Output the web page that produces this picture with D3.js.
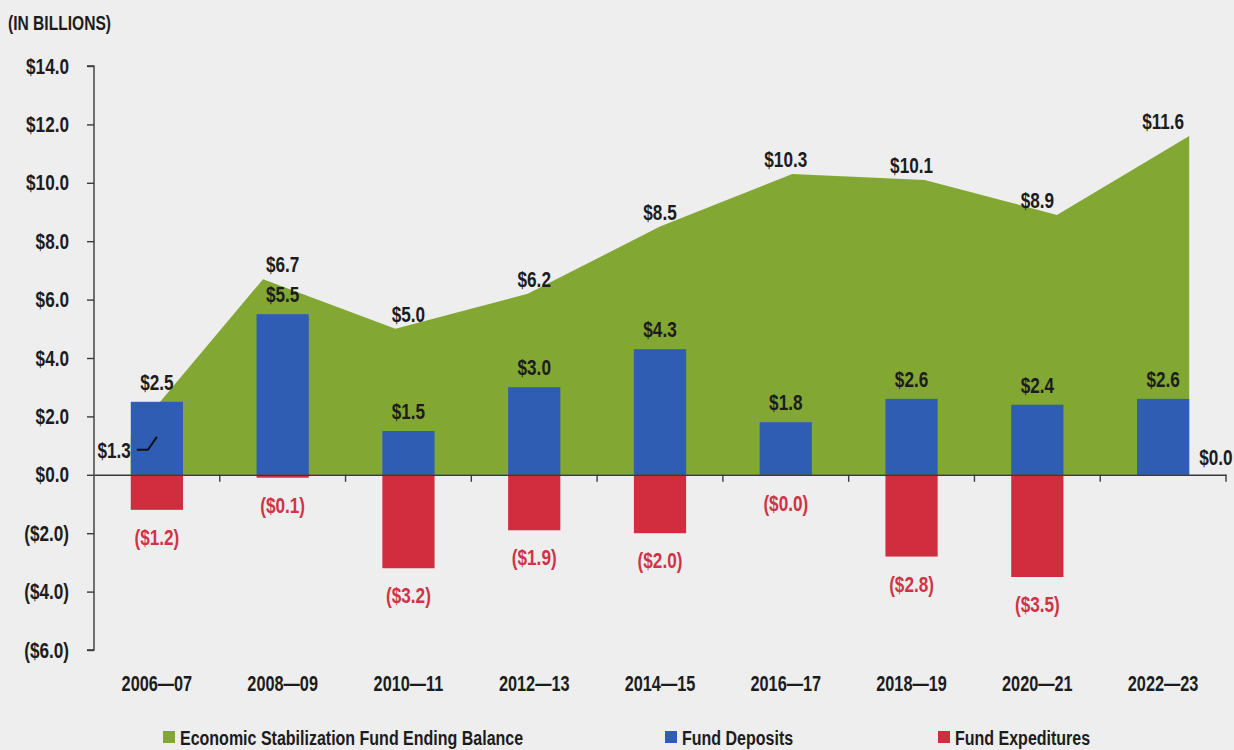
<!DOCTYPE html>
<html>
<head>
<meta charset="utf-8">
<script src="https://cdn.jsdelivr.net/npm/d3@7"></script>
<style>
  html, body { margin: 0; padding: 0; background: #eeeeee; }
  svg { display: block; }
  text { font-family: "Liberation Sans", Arial, sans-serif; font-weight: bold; }
</style>
</head>
<body>
<svg id="chart" width="1234" height="750"></svg>
<script>
// ---- data ----
const categories = ["2006—07", "2008—09", "2010—11", "2012—13", "2014—15", "2016—17", "2018—19", "2020—21", "2022—23"];
const endingBalance = [1.3, 6.7, 5.0, 6.2, 8.5, 10.3, 10.1, 8.9, 11.6];
const fundDeposits = [2.5, 5.5, 1.5, 3.0, 4.3, 1.8, 2.6, 2.4, 2.6];
const fundExpenditures = [-1.2, -0.1, -3.2, -1.9, -2.0, -0.04, -2.8, -3.5, 0.0];
const yTicks = [-6, -4, -2, 0, 2, 4, 6, 8, 10, 12, 14];
const legendLabels = ["Economic Stabilization Fund Ending Balance", "Fund Deposits", "Fund Expeditures"];
const unitLabel = "(IN BILLIONS)";

const colors = { balance: "#82a733", deposits: "#2f5db3", expend: "#d22d3e", expendText: "#cf3346", ink: "#1c1c1c", axis: "#3a3a3a" };
const K = 0.78; // horizontal condensing factor for narrow type

const svg = d3.select("#chart");
const W = 1234, H = 750;
svg.append("rect").attr("width", W).attr("height", H).attr("fill", "#eeeeee");

function condense(sel, k = K) {
  sel.each(function () {
    const t = d3.select(this);
    const tx = +t.attr("x") || 0, ty = +t.attr("y") || 0;
    t.attr("x", 0).attr("y", 0).attr("transform", `translate(${tx},${ty}) scale(${k},1)`);
  });
}

const x = d3.scaleBand().domain(categories).range([94, 1226]).padding(0);
const bw = x.bandwidth();
const barW = bw * 0.415;
const cx = c => x(c) + bw / 2;
const y = d3.scaleLinear().domain([-6, 14]).range([650, 66]);
const xa = d3.scaleLinear().domain([0, categories.length - 1])
  .range([cx(categories[0]) - barW / 2, cx(categories[categories.length - 1]) + barW / 2]);

const fmt = v => {
  const s = "$" + Math.abs(v).toFixed(1);
  return v < 0 ? "(" + s + ")" : s;
};

// ---- area ----
const area = d3.area().x((d, i) => xa(i)).y0(y(0)).y1(d => y(d));
svg.append("path").datum(endingBalance).attr("d", area).attr("fill", colors.balance);

// ---- bars ----
svg.append("g").selectAll("rect").data(fundDeposits).join("rect")
  .attr("x", (d, i) => cx(categories[i]) - barW / 2)
  .attr("y", d => y(Math.max(0, d)))
  .attr("width", barW)
  .attr("height", d => Math.abs(y(d) - y(0)))
  .attr("fill", colors.deposits);

svg.append("g").selectAll("rect").data(fundExpenditures).join("rect")
  .attr("x", (d, i) => cx(categories[i]) - barW / 2)
  .attr("y", y(0))
  .attr("width", barW)
  .attr("height", d => Math.abs(y(d) - y(0)))
  .attr("fill", colors.expend);

// ---- y axis ----
const yAxis = d3.axisLeft(y).tickValues(yTicks).tickSize(7).tickPadding(18).tickFormat(fmt);
const gy = svg.append("g").attr("transform", "translate(94,0)").call(yAxis);
gy.select(".domain").attr("stroke", colors.axis).attr("stroke-width", 1.4).attr("d", `M-7,${y(14)}H0V${y(-6)}H-7`);
gy.selectAll(".tick line").attr("stroke", colors.axis).attr("stroke-width", 1.4);
gy.selectAll(".tick text").attr("fill", colors.ink).style("font-size", "22px")
  .style("font-family", '"Liberation Sans",Arial,sans-serif').style("font-weight", "bold");
condense(gy.selectAll(".tick text"));

// ---- x axis ----
const xAxis = d3.axisBottom(x).tickSize(0).tickPadding(0);
const gx = svg.append("g").attr("transform", `translate(0,${y(0)})`).call(xAxis);
gx.select(".domain").attr("stroke", colors.axis).attr("stroke-width", 1.4);
gx.selectAll(".tick text").attr("fill", colors.ink).attr("y", 691 - y(0)).attr("dy", 0)
  .style("font-size", "22px")
  .style("font-family", '"Liberation Sans",Arial,sans-serif').style("font-weight", "bold");
condense(gx.selectAll(".tick text"), 0.74);
// boundary ticks
gx.append("g").selectAll("line").data(categories).join("line")
  .attr("x1", c => x(c) + bw).attr("x2", c => x(c) + bw)
  .attr("y1", 0).attr("y2", 7)
  .attr("stroke", colors.axis).attr("stroke-width", 1.4);

// ---- labels ----
const lbl = svg.append("g").style("font-size", "22px").attr("fill", colors.ink);

// ending balance labels (first one uses a leader line)
endingBalance.forEach((v, i) => {
  const c = categories[i];
  if (i === 0) {
    const px = cx(c), py = y(v);
    svg.append("path")
      .attr("d", `M${px - 20},${py + 13}H${px - 9}L${px},${py}`)
      .attr("fill", "none").attr("stroke", "#111").attr("stroke-width", 2);
    lbl.append("text").attr("x", px - 26).attr("y", py + 21).attr("text-anchor", "end").text(fmt(v));
  } else {
    lbl.append("text").attr("x", cx(c)).attr("y", y(v) - 7).attr("text-anchor", "middle").text(fmt(v));
  }
});

// deposit labels
fundDeposits.forEach((v, i) => {
  lbl.append("text").attr("x", cx(categories[i])).attr("y", y(v) - 12).attr("text-anchor", "middle").text(fmt(v));
});

// expenditure labels
fundExpenditures.forEach((v, i) => {
  const c = categories[i];
  if (v === 0) {
    lbl.append("text").attr("x", cx(c) + barW / 2 + 10).attr("y", y(0) - 10).attr("text-anchor", "start")
      .attr("fill", colors.ink).text(fmt(v));
  } else {
    lbl.append("text").attr("x", cx(c)).attr("y", y(v) + 35).attr("text-anchor", "middle")
      .attr("fill", colors.expendText).text(fmt(v));
  }
});
condense(lbl.selectAll("text"));

// unit label
const unit = svg.append("text").attr("x", 8).attr("y", 30).style("font-size", "20px").attr("fill", colors.ink).text(unitLabel);
condense(unit);

// ---- legend ----
const legendX = [163, 665, 938];
const legendColors = [colors.balance, colors.deposits, colors.expend];
const lg = svg.append("g");
legendLabels.forEach((t, i) => {
  lg.append("rect").attr("x", legendX[i]).attr("y", 731).attr("width", 12).attr("height", 12).attr("fill", legendColors[i]);
  lg.append("text").attr("x", legendX[i] + 17).attr("y", 745).style("font-size", "20px").attr("fill", colors.ink).text(t);
});
condense(lg.selectAll("text"), 0.8);
</script>
</body>
</html>
